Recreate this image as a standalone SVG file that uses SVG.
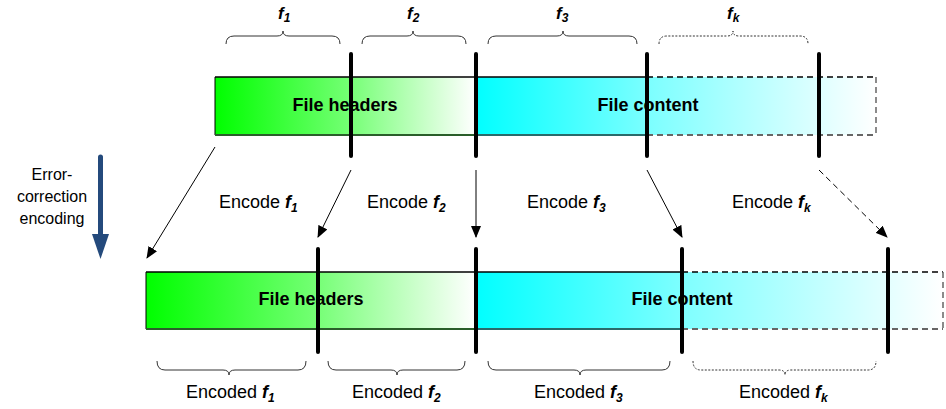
<svg xmlns="http://www.w3.org/2000/svg" width="946" height="409" viewBox="0 0 946 409">
<defs>
<linearGradient id="gTop" x1="215" y1="0" x2="475" y2="0" gradientUnits="userSpaceOnUse"><stop offset="0" stop-color="#00ff00"/><stop offset="0.5" stop-color="#70ff70"/><stop offset="1" stop-color="#ffffff"/></linearGradient>
<linearGradient id="cTop" x1="475" y1="0" x2="876" y2="0" gradientUnits="userSpaceOnUse"><stop offset="0" stop-color="#00ffff"/><stop offset="0.45" stop-color="#80ffff"/><stop offset="1" stop-color="#ffffff"/></linearGradient>
<linearGradient id="gBot" x1="146" y1="0" x2="475" y2="0" gradientUnits="userSpaceOnUse"><stop offset="0" stop-color="#00ff00"/><stop offset="0.5" stop-color="#70ff70"/><stop offset="1" stop-color="#ffffff"/></linearGradient>
<linearGradient id="cBot" x1="475" y1="0" x2="943" y2="0" gradientUnits="userSpaceOnUse"><stop offset="0" stop-color="#00ffff"/><stop offset="0.45" stop-color="#80ffff"/><stop offset="1" stop-color="#ffffff"/></linearGradient>
<marker id="ah" markerWidth="12" markerHeight="10" refX="11" refY="5" orient="auto" markerUnits="userSpaceOnUse"><path d="M0,0 L12,5 L0,10 Z" fill="#000"/></marker>
</defs>
<style>
text{font-family:"Liberation Sans",Arial,sans-serif;fill:#000}
.bar{font-size:18px;font-weight:bold}
.lab{font-size:18px}
.fi{font-weight:bold;font-style:italic}
.sub{font-size:12px;font-weight:bold;font-style:italic}
.div{stroke:#000;stroke-width:4;stroke-linecap:round}
.br{fill:none;stroke:#333;stroke-width:1}
.dot{stroke-dasharray:2,1.5}
.arr{stroke:#000;stroke-width:1;fill:none;marker-end:url(#ah)}
</style>

<g id="top-bar">
<rect x="215" y="77" width="260" height="58" fill="url(#gTop)"/>
<rect x="475" y="77" width="401" height="58" fill="url(#cTop)"/>
<line x1="215" y1="77" x2="647" y2="77" stroke="#000" stroke-width="1.5"/>
<line x1="215" y1="77" x2="215" y2="135" stroke="#000" stroke-width="1"/>
<line x1="215" y1="135" x2="475" y2="135" stroke="#2a5e2a" stroke-width="2"/>
<line x1="475" y1="135" x2="647" y2="135" stroke="#2a6a6a" stroke-width="2"/>
<line x1="647" y1="77" x2="876" y2="77" stroke="#000" stroke-width="1.5" stroke-dasharray="6,4"/>
<line x1="647" y1="135" x2="876" y2="135" stroke="#666" stroke-width="2" stroke-dasharray="6,4"/>
<line x1="876" y1="77" x2="876" y2="135" stroke="#666" stroke-width="1.5" stroke-dasharray="6,4"/>
<text class="bar" x="345" y="111" text-anchor="middle">File headers</text>
<text class="bar" x="648" y="111" text-anchor="middle">File content</text>
<line class="div" x1="351" y1="54" x2="351" y2="156"/>
<line class="div" x1="476" y1="54" x2="476" y2="156"/>
<line class="div" x1="647" y1="54" x2="647" y2="156"/>
<line class="div" x1="819" y1="54" x2="819" y2="156"/>
</g>

<g id="top-braces">
<path class="br" d="M226,44 Q226,36 234,36 L277,36 Q283,36 283,31 Q283,36 289,36 L332,36 Q340,36 340,44"/>
<path class="br" d="M362,44 Q362,36 370,36 L407,36 Q413,36 413,31 Q413,36 419,36 L458,36 Q466,36 466,44"/>
<path class="br" d="M488,44 Q488,36 496,36 L557,36 Q563,36 563,31 Q563,36 569,36 L629,36 Q637,36 637,44"/>
<path class="br dot" d="M659,44 Q659,36 667,36 L727,36 Q733,36 733,31 Q733,36 739,36 L800,36 Q808,36 808,44"/>
<text x="278" y="19"><tspan class="fi" font-size="17">f</tspan><tspan class="sub" dy="3">1</tspan></text>
<text x="407" y="19"><tspan class="fi" font-size="17">f</tspan><tspan class="sub" dy="3">2</tspan></text>
<text x="556" y="19"><tspan class="fi" font-size="17">f</tspan><tspan class="sub" dy="3">3</tspan></text>
<text x="727" y="19"><tspan class="fi" font-size="17">f</tspan><tspan class="sub" dy="3">k</tspan></text>
</g>

<g id="bottom-bar">
<rect x="146" y="272" width="329" height="57" fill="url(#gBot)"/>
<rect x="475" y="272" width="468" height="57" fill="url(#cBot)"/>
<line x1="146" y1="272" x2="682" y2="272" stroke="#000" stroke-width="1.5"/>
<line x1="146" y1="272" x2="146" y2="329" stroke="#000" stroke-width="1"/>
<line x1="146" y1="329" x2="475" y2="329" stroke="#2a5e2a" stroke-width="2"/>
<line x1="475" y1="329" x2="682" y2="329" stroke="#2a6a6a" stroke-width="2"/>
<line x1="682" y1="272" x2="943" y2="272" stroke="#000" stroke-width="1.5" stroke-dasharray="6,4"/>
<line x1="682" y1="329" x2="943" y2="329" stroke="#666" stroke-width="2" stroke-dasharray="6,4"/>
<line x1="943" y1="272" x2="943" y2="329" stroke="#666" stroke-width="1.5" stroke-dasharray="6,4"/>
<text class="bar" x="311" y="305" text-anchor="middle">File headers</text>
<text class="bar" x="682" y="305" text-anchor="middle">File content</text>
<line class="div" x1="318" y1="249" x2="318" y2="352"/>
<line class="div" x1="476" y1="249" x2="476" y2="352"/>
<line class="div" x1="682" y1="249" x2="682" y2="352"/>
<line class="div" x1="888" y1="249" x2="888" y2="352"/>
</g>

<g id="bottom-braces">
<path class="br" d="M157,361 Q157,370 165,370 L223,370 Q229,370 229,375 Q229,370 235,370 L298,370 Q306,370 306,361"/>
<path class="br" d="M328,361 Q328,370 336,370 L391,370 Q397,370 397,375 Q397,370 403,370 L457,370 Q465,370 465,361"/>
<path class="br" d="M488,361 Q488,370 496,370 L574,370 Q580,370 580,375 Q580,370 586,370 L662,370 Q670,370 670,361"/>
<path class="br dot" d="M693,361 Q693,370 701,370 L779,370 Q785,370 785,375 Q785,370 791,370 L868,370 Q876,370 876,361"/>
<text class="lab" x="186" y="398">Encoded <tspan class="fi">f</tspan><tspan class="sub" dy="4">1</tspan></text>
<text class="lab" x="352" y="398">Encoded <tspan class="fi">f</tspan><tspan class="sub" dy="4">2</tspan></text>
<text class="lab" x="534" y="398">Encoded <tspan class="fi">f</tspan><tspan class="sub" dy="4">3</tspan></text>
<text class="lab" x="739" y="398">Encoded <tspan class="fi">f</tspan><tspan class="sub" dy="4">k</tspan></text>
</g>

<g id="connectors">
<line class="arr" x1="215" y1="147" x2="147" y2="258"/>
<line class="arr" x1="351" y1="170" x2="318" y2="237"/>
<line class="arr" x1="476" y1="170" x2="476" y2="237"/>
<line class="arr" x1="647" y1="170" x2="682" y2="237"/>
<line class="arr" x1="819" y1="170" x2="887" y2="237" stroke-dasharray="6,4"/>
</g>

<g id="encode-labels">
<text class="lab" x="219" y="208">Encode <tspan class="fi">f</tspan><tspan class="sub" dy="4">1</tspan></text>
<text class="lab" x="367" y="208">Encode <tspan class="fi">f</tspan><tspan class="sub" dy="4">2</tspan></text>
<text class="lab" x="527" y="208">Encode <tspan class="fi">f</tspan><tspan class="sub" dy="4">3</tspan></text>
<text class="lab" x="732" y="208">Encode <tspan class="fi">f</tspan><tspan class="sub" dy="4">k</tspan></text>
</g>

<g id="process">
<line x1="100.5" y1="157" x2="100.5" y2="236" stroke="#244a7c" stroke-width="5" stroke-linecap="round"/>
<path d="M92,234 L109,234 L100.5,259 Z" fill="#244a7c"/>
<text x="52" y="180" font-size="16" text-anchor="middle">Error-</text>
<text x="52" y="202" font-size="16" text-anchor="middle">correction</text>
<text x="52" y="224" font-size="16" text-anchor="middle">encoding</text>
</g>
</svg>
